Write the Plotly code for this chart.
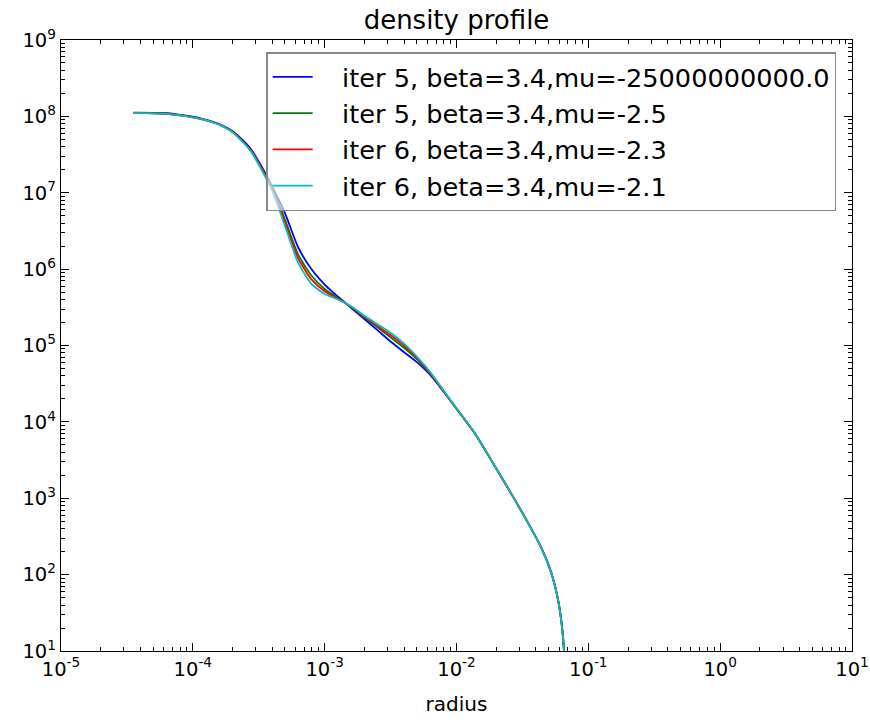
import plotly.graph_objects as go

radius = [3.55e-5, 6.4e-5, 1.14e-4, 1.53e-4, 2.03e-4, 2.74e-4, 3.26e-4, 4.0e-4, 5.0e-4, 6.3e-4,
          7.9e-4, 1.0e-3, 1.25e-3, 1.6e-3, 2.0e-3, 2.5e-3, 3.2e-3, 4.0e-3, 5.0e-3, 6.3e-3,
          8.81e-3, 1.365e-2, 1.94e-2, 2.60e-2, 3.48e-2, 4.40e-2, 5.24e-2, 5.89e-2, 6.31e-2, 6.53e-2,
          6.62e-2]

dens_iter5_mu_big = [1.12e8, 1.10e8, 9.44e7, 8.13e7, 6.31e7, 3.80e7, 2.34e7, 1.20e7, 5.40e6, 1.92e6,
                     1.01e6, 6.28e5, 4.41e5, 3.08e5, 2.22e5, 1.60e5, 1.11e5, 8.17e4, 6.05e4, 4.14e4,
                     1.98e4, 7.20e3, 2.68e3, 1.15e3, 480, 225, 106, 47.2, 21.2, 10.4,
                     2]
dens_iter5_mu25 = [1.11e8, 1.08e8, 9.33e7, 8.04e7, 6.17e7, 3.63e7, 2.24e7, 1.15e7, 4.47e6, 1.55e6,
                   8.32e5, 5.50e5, 4.22e5, 3.16e5, 2.34e5, 1.74e5, 1.26e5, 9.33e4, 6.61e4, 4.30e4,
                   2.00e4, 7.24e3, 2.69e3, 1.15e3, 479, 224, 105, 46.8, 20.9, 10.2,
                   2]
dens_iter6_mu23 = [1.11e8, 1.08e8, 9.29e7, 8.0e7, 6.12e7, 3.59e7, 2.19e7, 1.11e7, 4.07e6, 1.38e6,
                   7.41e5, 5.13e5, 4.12e5, 3.20e5, 2.40e5, 1.82e5, 1.35e5, 1.0e5, 6.92e4, 4.42e4,
                   2.01e4, 7.25e3, 2.69e3, 1.15e3, 479, 224, 105, 46.7, 20.8, 10.2,
                   2]
dens_iter6_mu21 = [1.11e8, 1.08e8, 9.27e7, 7.98e7, 6.08e7, 3.54e7, 2.12e7, 1.07e7, 3.68e6, 1.21e6,
                   6.46e5, 4.73e5, 4.03e5, 3.24e5, 2.45e5, 1.91e5, 1.45e5, 1.06e5, 7.18e4, 4.53e4,
                   2.03e4, 7.28e3, 2.70e3, 1.15e3, 478, 223, 104, 46.4, 20.6, 10.1,
                   2]

labels = ["iter 5, beta=3.4,mu=-25000000000.0", "iter 5, beta=3.4,mu=-2.5",
          "iter 6, beta=3.4,mu=-2.3", "iter 6, beta=3.4,mu=-2.1"]
series = [dens_iter5_mu_big, dens_iter5_mu25, dens_iter6_mu23, dens_iter6_mu21]
colors = ["#0000ff", "#008000", "#ff0000", "#00bfbf"]

x_exponents = [-5, -4, -3, -2, -1, 0, 1]
y_exponents = [1, 2, 3, 4, 5, 6, 7, 8, 9]


def tick_setup(exps):
    vals = [10.0 ** e for e in exps]
    text = ["10<sup>%d</sup>" % e for e in exps]
    minor = [k * 10.0 ** e for e in exps[:-1] for k in range(2, 10)]
    return vals, text, minor


xv, xt, xm = tick_setup(x_exponents)
yv, yt, ym = tick_setup(y_exponents)

fig = go.Figure()
for lab, ys, c in zip(labels, series, colors):
    fig.add_trace(go.Scatter(x=radius, y=ys, mode="lines", name="\u00a0\u00a0\u00a0" + lab,
                             line=dict(color=c, width=1.8, shape="spline", smoothing=0.6)))

font = "DejaVu Sans"
axis_common = dict(type="log", showline=True, linecolor="black", linewidth=1.3, mirror="allticks",
                   ticks="inside", ticklen=8, tickcolor="black", tickwidth=1, showgrid=False,
                   zeroline=False, tickmode="array", automargin=False, ticklabeloverflow="allow",
                   tickfont=dict(family=font, size=19.5, color="black"))

fig.update_layout(
    width=870, height=720,
    margin=dict(l=61, r=18, t=40, b=69),
    paper_bgcolor="white", plot_bgcolor="white",
    title=dict(text="density profile", x=0.5, xref="paper", xanchor="center", y=0.972,
               yanchor="middle", font=dict(family=font, size=26, color="black")),
    xaxis=dict(axis_common, range=[-5, 1], tickvals=xv, ticktext=xt,
               minor=dict(ticks="inside", ticklen=4, tickcolor="black", tickmode="array",
                          tickvals=xm, showgrid=False),
               title=dict(text="radius", font=dict(family=font, size=20, color="black"), standoff=17)),
    yaxis=dict(axis_common, range=[1, 9], tickvals=yv, ticktext=yt,
               minor=dict(ticks="inside", ticklen=4, tickcolor="black", tickmode="array",
                          tickvals=ym, showgrid=False)),
    legend=dict(x=0.98, y=0.98, xanchor="right", yanchor="top", bgcolor="rgba(255,255,255,0.6)",
                bordercolor="#888888", borderwidth=1.5,
                font=dict(family=font, size=25.6, color="black"), itemwidth=40),
    showlegend=True,
)

fig.write_html("out.html")
